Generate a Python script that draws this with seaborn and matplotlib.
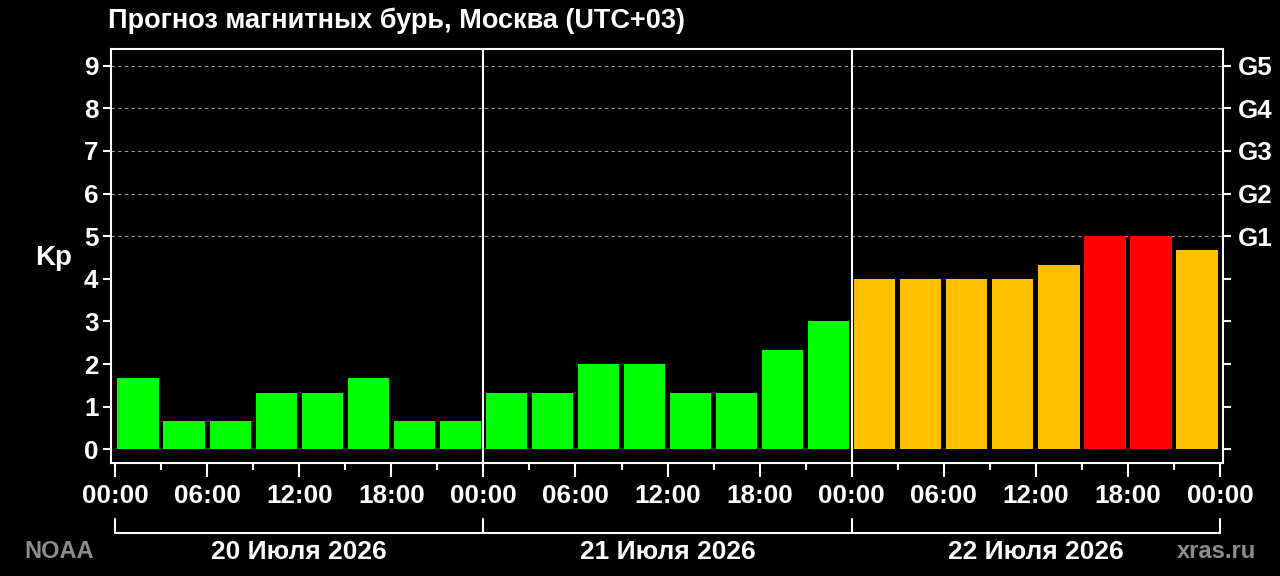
import matplotlib
matplotlib.use("Agg")
import matplotlib.pyplot as plt
import seaborn as sns
import pandas as pd

# ---- data ----
slot_start_hours = list(range(0, 72, 3))
kp_values = [1.67, 0.67, 0.67, 1.33, 1.33, 1.67, 0.67, 0.67,
             1.33, 1.33, 2.00, 2.00, 1.33, 1.33, 2.33, 3.00,
             4.00, 4.00, 4.00, 4.00, 4.33, 5.00, 5.00, 4.67]
day_labels = ["20 Июля 2026", "21 Июля 2026", "22 Июля 2026"]
x_tick_hours = list(range(0, 73, 6))
x_tick_labels = ["00:00", "06:00", "12:00", "18:00"] * 3 + ["00:00"]
g_levels = [5, 6, 7, 8, 9]
g_labels = ["G1", "G2", "G3", "G4", "G5"]
title = "Прогноз магнитных бурь, Москва (UTC+03)"

def level(k):
    if k >= 5:
        return "storm"
    if k >= 4:
        return "active"
    return "quiet"

palette = {"quiet": "#00ff00", "active": "#ffc000", "storm": "#ff0000"}

df = pd.DataFrame({
    "t": [h + 1.5 for h in slot_start_hours],
    "kp": kp_values,
    "lvl": [level(k) for k in kp_values],
})

sns.set_theme(style="dark")
plt.rcParams["font.family"] = ["Liberation Sans", "DejaVu Sans"]
plt.rcParams["font.weight"] = "bold"

W, H = 1280, 576
fig = plt.figure(figsize=(12.8, 5.76), dpi=100, facecolor="black")
L, R, B, T = 111, 1223, 463, 48.7
ax = fig.add_axes([L / W, 1 - B / H, (R - L) / W, (B - T) / H])
ax.set_facecolor("black")

sns.barplot(data=df, x="t", y="kp", hue="lvl", palette=palette,
            native_scale=True, dodge=False, width=0.9, legend=False,
            saturation=1, ax=ax, linewidth=0)

ax.set_xlim(-0.27, 72.2)
ax.set_ylim(-0.32, 9.4)

# grid for G levels
for g in g_levels:
    ax.axhline(g, color="#9a9a9a", lw=0.8, ls=(0, (3, 3)), zorder=0)

# day separators
for d in (24, 48):
    ax.axvline(d, color="white", lw=1.5, zorder=3)

for s in ax.spines.values():
    s.set_color("white")
    s.set_linewidth(1.5)
    s.set_visible(True)

ax.set_xticks(x_tick_hours)
ax.set_xticklabels(x_tick_labels)
ax.set_xticks(slot_start_hours, minor=True)
ax.tick_params(axis="x", which="major", length=10, width=1.5, colors="white",
               pad=5, labelsize=18.7, direction="out", bottom=True)
ax.tick_params(axis="x", which="minor", length=5, width=1.5, colors="white",
               direction="out", bottom=True)
ax.set_yticks(range(0, 10))
ax.tick_params(axis="y", which="major", length=6, width=1.5, colors="white",
               pad=3, labelsize=18.7, left=True, direction="out")
for lab in ax.get_xticklabels() + ax.get_yticklabels():
    lab.set_fontweight("bold")
ax.set_xlabel("")
ax.set_ylabel("")
ax.grid(False)

# right axis G labels
ax2 = ax.twinx()
ax2.set_ylim(ax.get_ylim())
ax2.set_yticks(range(0, 10))
ax2.set_yticklabels(["" if i not in g_levels else g_labels[g_levels.index(i)]
                     for i in range(0, 10)])
ax2.tick_params(axis="y", length=6, width=1.5, colors="white", pad=5,
                labelsize=18.7, right=True, direction="out")
for lab in ax2.get_yticklabels():
    lab.set_fontweight("bold")
for s in ax2.spines.values():
    s.set_visible(False)
ax2.grid(False)

# bracket below axis
trans = ax.get_xaxis_transform()
yb = -(533 - B) / (B - T)
yv = -(519 - B) / (B - T)
ax.plot([0, 72], [yb, yb], transform=trans, color="white", lw=1.5, clip_on=False)
for d in (0, 24, 48, 72):
    ax.plot([d, d], [yv, yb], transform=trans, color="white", lw=1.5, clip_on=False)
ylab = -(552 - B) / (B - T)
for i, lbl in enumerate(day_labels):
    ax.text(12 + 24 * i, ylab, lbl, transform=trans, ha="center", va="center",
            color="white", fontsize=19, fontweight="bold")

fig.text(108 / W, 1 - 21 / H, title, ha="left", va="center", color="white",
         fontsize=19.5, fontweight="bold")
fig.text(54 / W, 1 - 258 / H, "Kp", ha="center", va="center", color="white",
         fontsize=20, fontweight="bold")
fig.text(59 / W, 1 - 551 / H, "NOAA", ha="center", va="center", color="#8c8c8c",
         fontsize=17, fontweight="bold")
fig.text(1216 / W, 1 - 551 / H, "xras.ru", ha="center", va="center", color="#8c8c8c",
         fontsize=17, fontweight="bold")

fig.savefig("out.png", dpi=100, facecolor="black")
